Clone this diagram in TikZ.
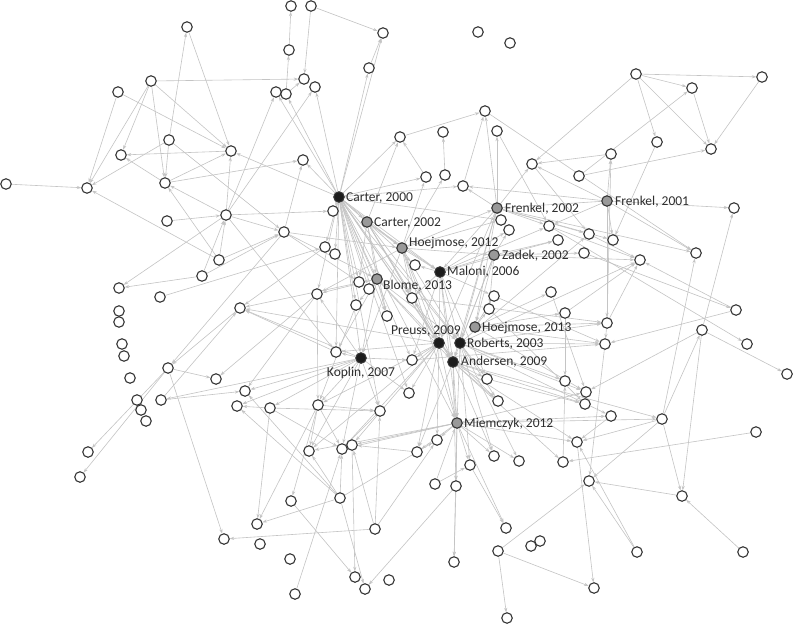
\documentclass[tikz,border=0pt]{standalone}
\usepackage{fontspec}
\setmainfont{Carlito}
\usetikzlibrary{arrows.meta}
\pgfdeclarelayer{bg}
\pgfsetlayers{bg,main}
\definecolor{edgec}{HTML}{C4C4C4}
\definecolor{ndc}{HTML}{333333}
\definecolor{hubblack}{HTML}{1C1C1C}
\definecolor{hubgray}{HTML}{999999}
\definecolor{labc}{HTML}{2E2E2E}
\tikzset{
  nd/.style={circle, draw=ndc, line width=1.1pt, fill=white, minimum size=10.5pt, inner sep=0pt, outer sep=0.5pt},
  blk/.style={nd, fill=hubblack},
  gry/.style={nd, fill=hubgray},
  edg/.style={draw=edgec, line width=0.6pt, -{Stealth[length=4.5pt,width=3.2pt]}},
  lab/.style={font=\fontsize{13.5}{15}\selectfont, text=labc, inner sep=1pt}
}
\begin{document}
\begin{tikzpicture}[x=1pt,y=-1pt]
\useasboundingbox (0,0) rectangle (794,624);
% ordinary nodes
\foreach \i/\x/\y in {1/291/6,2/311/6,3/187/27,4/383/33,5/289/50,6/369/68,7/151/81,8/304/79,9/118/92,10/276/92,
11/286/94,12/315/87,13/400/137,14/169/140,15/231/151,16/121/155,17/303/160,18/6/184,19/87/188,20/165/183,
21/226/215,22/333/211,23/167/221,24/284/232,25/325/247,26/335/254,27/219/260,28/202/276,29/119/288,30/160/297,
31/359/282,32/369/289,33/317/294,34/356/305,35/119/311,36/240/308,37/478/32,38/510/43,39/636/74,40/762/77,
41/692/88,42/711/149,43/657/142,44/611/154,45/485/111,46/497/131,47/443/132,48/532/164,49/579/176,50/426/177,
51/445/175,52/463/186,53/734/208,54/501/220,55/509/230,56/549/226,57/558/240,58/589/234,59/613/240,60/584/253,
61/640/260,62/696/253,63/415/265,64/412/298,65/494/296,66/551/292,67/736/310,68/489/309,69/565/313,70/387/316,
71/607/323,72/605/344,73/702/330,74/747/344,75/787/374,76/336/352,77/412/360,78/487/379,79/565/381,80/586/392,
81/585/404,82/498/401,83/611/416,84/662/419,85/756/432,86/409/393,87/318/405,88/380/411,89/270/408,90/437/440,
91/352/445,92/342/449,93/119/322,94/122/344,95/124/356,96/130/378,97/168/368,98/216/379,99/137/400,100/141/410,
101/146/421,102/161/400,103/245/391,104/237/406,105/309/451,106/88/452,107/80/477,108/291/501,109/340/498,110/257/524,
111/224/539,112/260/544,113/290/559,114/375/529,115/355/577,116/365/589,117/389/580,118/295/594,119/417/452,120/494/456,
121/519/461,122/563/462,123/577/442,124/589/481,125/470/465,126/435/484,127/456/486,128/506/528,129/498/551,130/531/546,
131/540/541,132/454/562,133/594/588,134/507/618,135/637/552,136/743/552,137/682/496}
  \node[nd] (n\i) at (\x,\y) {};
% highlighted nodes
\node[blk] (C0) at (339,197) {};
\node[gry] (C2) at (367,222) {};
\node[gry] (H12) at (402,248) {};
\node[blk] (M6) at (440,272) {};
\node[gry] (B13) at (377,279) {};
\node[gry] (Z2) at (494,255) {};
\node[gry] (F2) at (497,208) {};
\node[gry] (F1) at (607,201) {};
\node[gry] (H13) at (475,327) {};
\node[blk] (P9) at (439,343) {};
\node[blk] (R3) at (460,343) {};
\node[blk] (A9) at (453,362) {};
\node[blk] (K7) at (361,358) {};
\node[gry] (M12) at (457,423) {};
% labels
\node[lab,anchor=west] (lC0) at (345,198) {Carter, 2000};
\node[lab,anchor=west] (lC2) at (373,223) {Carter, 2002};
\node[lab,anchor=west] (lH12) at (408,243) {Hoejmose, 2012};
\node[lab,anchor=west] (lZ2) at (501,256) {Zadek, 2002};
\node[lab,anchor=west] (lM6) at (446,272) {Maloni, 2006};
\node[lab,anchor=west] (lB13) at (382,286) {Blome, 2013};
\node[lab,anchor=west] (lF2) at (504,209) {Frenkel, 2002};
\node[lab,anchor=west] (lF1) at (614,202) {Frenkel, 2001};
\node[lab,anchor=west] (lH13) at (481,328) {Hoejmose, 2013};
\node[lab,anchor=east] (lP9) at (462,331) {Preuss, 2009};
\node[lab,anchor=west] (lR3) at (466,344) {Roberts, 2003};
\node[lab,anchor=west] (lA9) at (460,362) {Andersen, 2009};
\node[lab] (lK7) at (361,373) {Koplin, 2007};
\node[lab,anchor=west] (lM12) at (463,424) {Miemczyk, 2012};
% connectors
\begin{pgfonlayer}{bg}
\fill[white] (0,0) rectangle (794,624);
\foreach \a/\b in {n5/n1,n2/n4,n2/n8,n11/n5,n11/n8,n7/n8,n7/n16,n7/n20,n7/n15,n7/n19,n9/n19,n9/n15,n3/n15,n14/n3,
n14/n20,n14/n19,n14/n24,n15/n16,n18/n19,n20/n15,n20/n17,n20/n16,n21/n10,n21/n15,n21/n20,n21/n24,n21/n22,n23/n21,
n21/n12,n27/n21,n28/n21,n27/n20,n27/n24,n28/n24,n21/n29,n28/n29,n30/n25,n27/n19,n21/n76,n24/n17,n24/H12,n24/B13,
n24/n31,n25/n36,n6/n4,
C0/n17,C0/n15,C0/n10,C0/n11,C0/n12,C0/n6,C0/n4,C0/n13,C0/n50,C0/n22,C0/C2,C0/H12,C0/M6,C0/B13,C0/P9,C0/R3,C0/A9,
C0/K7,C0/M12,C0/n31,C0/n32,C0/n34,C0/n64,C0/n70,C0/n76,C0/n77,C0/n86,C0/n25,C0/n26,C0/n33,C0/n63,C0/n88,C0/n52,C0/n54,
n39/n40,n39/n41,n39/n42,n39/n43,n39/n48,n40/n42,n41/n42,n49/n41,n49/n42,n44/n48,n43/n59,n71/n44,F1/n44,n13/n45,
n45/n62,n46/n56,F1/n48,n48/n58,F2/n48,F1/n53,F1/n62,F1/n56,F1/n59,F1/F2,F1/n52,F1/n71,n73/n53,n84/n62,n67/n61,
n58/n61,n56/n61,n69/n61,n71/n61,n60/n67,F2/n45,F2/n46,n51/n47,n50/n13,n52/n45,
H12/M6,H12/P9,H12/R3,H12/A9,H12/K7,H12/M12,H12/F2,H12/Z2,H12/n54,H12/n50,H12/n51,H12/n33,H12/n64,C2/H12,C2/M6,
C2/B13,C2/P9,C2/R3,C2/A9,C2/n64,C2/n70,C2/n31,C2/n13,
M6/P9,M6/R3,M6/A9,M6/M12,M6/n64,M6/n65,M6/n77,M6/n78,M6/n55,M6/n56,M6/n57,M6/n63,
B13/P9,B13/R3,B13/A9,B13/K7,B13/n33,B13/n76,B13/n34,B13/n36,B13/n70,
Z2/R3,Z2/A9,Z2/H13,Z2/M6,Z2/n57,Z2/n60,Z2/n61,Z2/n68,Z2/n55,
F2/R3,F2/A9,F2/H13,F2/P9,F2/n52,F2/n54,F2/n56,F2/n59,F2/n62,F2/M6,F2/n58,
H13/n71,H13/n72,H13/n69,H13/n66,H13/n65,H13/n68,H13/n80,
P9/M12,P9/n64,P9/n77,P9/n86,P9/n87,P9/n91,P9/n92,P9/n105,P9/n76,P9/n82,P9/n90,P9/n119,P9/n36,
R3/M12,R3/n72,R3/n71,R3/n78,R3/n80,R3/n82,R3/n121,R3/n120,R3/n125,R3/n61,R3/n58,R3/n83,R3/n79,
A9/M12,A9/n78,A9/n82,A9/n84,A9/n119,A9/n120,A9/n122,A9/n123,A9/n127,A9/n81,
K7/n76,K7/n87,K7/n88,K7/n89,K7/n103,K7/n104,K7/n105,K7/n92,K7/n36,K7/n33,K7/n102,K7/n86,K7/n77,
M12/n90,M12/n119,M12/n120,M12/n121,M12/n125,M12/n127,M12/n132,M12/n128,M12/n91,M12/n83,M12/n123,M12/n80,
M12/n84,M12/n105,M12/n92,n126/M12,
n71/n72,n67/n72,n77/n72,n64/n71,n56/n74,n73/n75,n84/n73,n73/n80,n73/n137,n84/n123,n84/n124,n84/n137,n85/n122,
n136/n137,n137/n124,n135/n123,n135/n124,n122/n79,n129/n124,n129/n133,n129/n134,n123/n133,n83/n123,n72/n124,
n66/n80,n69/n79,n68/n81,n78/n81,n65/n72,
n89/n104,n89/n110,n87/n105,n87/n92,n87/n110,n109/n110,n109/n92,n109/n105,n109/n104,n109/n90,n109/n116,n108/n115,
n118/n92,n114/n111,n114/n91,n114/n90,n91/n115,n127/n116,n127/n132,n119/n91,n89/n88,n88/n92,n87/n88,n87/n108,
n114/n88,n109/n103,
n97/n98,n97/n111,n97/n106,n97/n107,n36/n97,n24/n97,n33/n98,n76/n36,n102/n36,n102/n103,n33/n87,n34/n87,n33/n103,
n89/n92,n126/n125,n125/n128}
  \draw[edg] (\a) -- (\b);
\end{pgfonlayer}
\end{tikzpicture}
\end{document}
